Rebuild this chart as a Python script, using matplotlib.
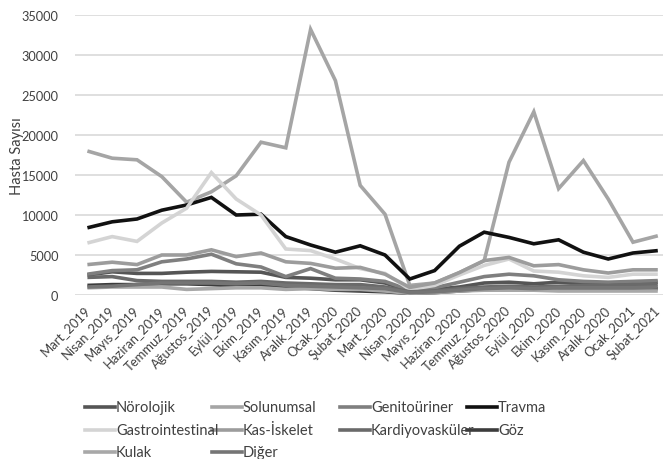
import matplotlib
matplotlib.use("Agg")
import matplotlib.pyplot as plt
from matplotlib.lines import Line2D
from matplotlib.transforms import ScaledTranslation

plt.rcParams['font.family'] = ['Lato', 'DejaVu Sans']

months = ["Mart_2019", "Nisan_2019", "Mayıs_2019", "Haziran_2019", "Temmuz_2019",
          "Ağustos_2019", "Eylül_2019", "Ekim_2019", "Kasım_2019", "Aralık_2019",
          "Ocak_2020", "Şubat_2020", "Mart_2020", "Nisan_2020", "Mayıs_2020",
          "Haziran_2020", "Temmuz_2020", "Ağustos_2020", "Eylül_2020", "Ekim_2020",
          "Kasım_2020", "Aralık_2020", "Ocak_2021", "Şubat_2021"]

norolojik = [2500, 2900, 2700, 2700, 2850, 2950, 2900, 2850, 2200, 2100, 1900, 1900,
             1500, 500, 700, 1000, 1500, 1600, 1400, 1600, 1600, 1500, 1500, 1600]
solunumsal = [18000, 17100, 16900, 14800, 11600, 12900, 14900, 19100, 18400, 33200, 26800, 13700,
              10100, 1200, 1500, 2800, 4300, 16600, 22900, 13300, 16800, 12000, 6600, 7400]
genitouriner = [2600, 3050, 3150, 4150, 4500, 5100, 3900, 3500, 2300, 3300, 2100, 2000,
                1700, 600, 900, 1600, 2300, 2600, 2400, 1900, 1700, 1600, 1700, 1800]
travma = [8400, 9150, 9500, 10600, 11250, 12200, 10000, 10100, 7300, 6250, 5350, 6150,
          5000, 2000, 3050, 6100, 7850, 7200, 6400, 6900, 5350, 4500, 5250, 5550]
gastrointestinal = [6500, 7300, 6700, 9000, 10850, 15300, 12000, 10000, 5750, 5550, 4500, 3300,
                    2700, 700, 1200, 2500, 3700, 4500, 3000, 2850, 2400, 2200, 2600, 2600]
kas_iskelet = [3800, 4100, 3800, 5000, 5000, 5650, 4800, 5250, 4150, 3950, 3350, 3450,
               2600, 950, 1500, 2800, 4300, 4700, 3650, 3800, 3150, 2750, 3150, 3150]
kardiyovaskuler = [2200, 2300, 1800, 1700, 1700, 1700, 1600, 1700, 1500, 1400, 1300, 1300,
                   1000, 400, 500, 800, 1000, 1100, 1000, 1100, 1200, 1200, 1300, 1300]
goz = [1200, 1300, 1300, 1400, 1400, 1300, 1100, 1200, 1000, 800, 600, 500,
       400, 200, 300, 500, 700, 700, 700, 700, 700, 700, 700, 800]
kulak = [900, 1000, 1000, 1000, 700, 800, 900, 900, 700, 800, 700, 700,
         500, 200, 300, 500, 600, 600, 600, 500, 500, 500, 500, 500]
diger = [1000, 1100, 1300, 1500, 1500, 1500, 1400, 1500, 1200, 1100, 1000, 900,
         800, 300, 400, 600, 800, 900, 800, 900, 900, 900, 900, 1000]

series_names = ["Nörolojik", "Solunumsal", "Genitoüriner", "Travma", "Gastrointestinal",
                "Kas-İskelet", "Kardiyovasküler", "Göz", "Kulak", "Diğer"]
series_values = [norolojik, solunumsal, genitouriner, travma, gastrointestinal,
                 kas_iskelet, kardiyovaskuler, goz, kulak, diger]
series_colors = ["#555555", "#a5a5a5", "#7f7f7f", "#111111", "#d4d4d4",
                 "#9c9c9c", "#6a6a6a", "#3c3c3c", "#a8a8a8", "#757575"]

W, H = 663, 460
fig = plt.figure(figsize=(W / 100, H / 100), dpi=100)

# plot area in pixel terms: x from 75 (24 categories of ~24.8 px), y from 16 to 296
left, right, top, bottom = 75, 75 + 24 * 24.8, 16, 296
ax = fig.add_axes([left / W, (H - bottom) / H, (right - left) / W, (bottom - top) / H])

x = list(range(len(months)))
for name, vals, col in zip(series_names, series_values, series_colors):
    ax.plot(x, vals, color=col, lw=2.6, solid_joinstyle='miter', solid_capstyle='butt')

ax.set_xlim(-0.5, len(months) - 0.5)
ax.set_ylim(0, 35000)
ax.set_yticks(range(0, 35001, 5000))
ax.grid(axis='y', color='#d9d9d9', lw=1.2)
ax.set_axisbelow(True)
for s in ax.spines.values():
    s.set_visible(False)
ax.tick_params(length=0, colors='#404040')
ax.tick_params(axis='y', pad=12, labelsize=9.2)
ax.set_xticks(x)
ax.set_xticklabels(months, rotation=45, ha='right', va='top', rotation_mode='anchor', fontsize=9.4)
ax.tick_params(axis='x', pad=6)
shift = ScaledTranslation(-4 / 100, 0, fig.dpi_scale_trans)
for lbl in ax.get_xticklabels():
    lbl.set_transform(lbl.get_transform() + shift)
ax.set_ylabel("Hasta Sayısı", fontsize=10.5, color='#404040')
ax.yaxis.set_label_coords(-51 / (right - left), 0.5)

# legend with uniform column widths
col_x = [85, 212, 340, 467]
row_y = [408, 431, 453]
for i, (name, col) in enumerate(zip(series_names, series_colors)):
    r, c = divmod(i, 4)
    x0 = col_x[c]
    yy = (H - row_y[r]) / H
    fig.add_artist(Line2D([x0 / W, (x0 + 30) / W], [yy, yy], color=col, lw=2.6,
                          transform=fig.transFigure))
    fig.text((x0 + 31) / W, yy, name, fontsize=10.5, color='#404040', va='center', ha='left')

fig.savefig("out.png", dpi=100)
